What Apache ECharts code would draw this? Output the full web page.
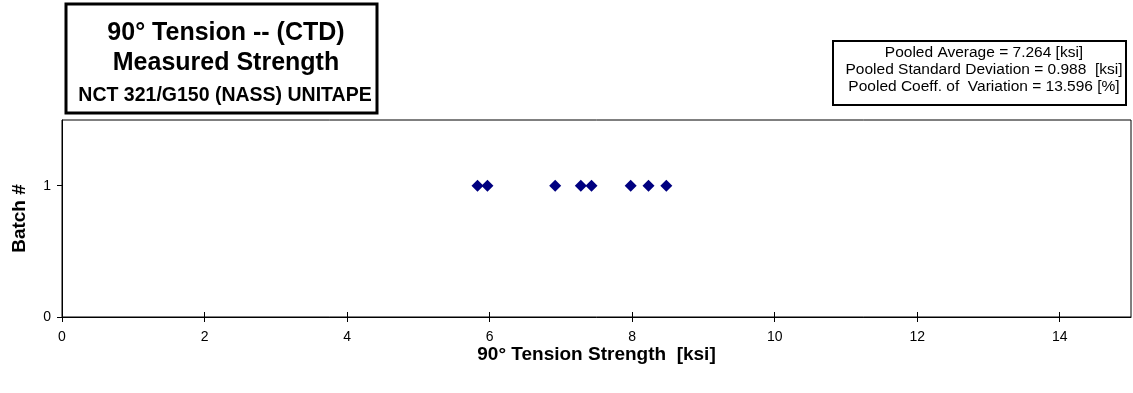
<!DOCTYPE html>
<html><head><meta charset="utf-8">
<script src="https://cdn.jsdelivr.net/npm/echarts@6/dist/echarts.min.js"></script>
<style>html,body{margin:0;padding:0;background:#fff}#c{width:1133px;height:393px}</style>
</head><body><div id="c"></div>
<script>
const strengthValues = [5.83, 5.97, 6.92, 7.28, 7.43, 7.98, 8.23, 8.48];
const batchNumbers = [1, 1, 1, 1, 1, 1, 1, 1];
const xTickValues = [0, 2, 4, 6, 8, 10, 12, 14];
const yTickValues = [0, 1];
const titleLines = ['90° Tension -- (CTD)', 'Measured Strength', 'NCT 321/G150 (NASS) UNITAPE'];
const statsLines = ['Pooled Average = 7.264 [ksi]', 'Pooled Standard Deviation = 0.988  [ksi]', 'Pooled Coeff. of  Variation = 13.596 [%]'];
const xAxisTitle = '90° Tension Strength  [ksi]';
const yAxisTitle = 'Batch #';

const F = '"Liberation Sans", Arial, sans-serif';
const chart = echarts.init(document.getElementById('c'), null, {renderer: 'canvas'});
const points = strengthValues.map((v, i) => [v, batchNumbers[i]]);

chart.setOption({
  animation: false,
  backgroundColor: '#fff',
  grid: {left: 62, right: 2, top: 120, bottom: 76, show: true, borderColor: '#000', borderWidth: 1, outerBoundsMode: 'none', containLabel: false},
  xAxis: [{
    type: 'value', min: 0, max: 15, interval: 2,
    name: xAxisTitle, nameLocation: 'middle', nameGap: 28, nameMoveOverlap: false,
    nameTextStyle: {fontFamily: F, fontWeight: 'bold', fontSize: 19, color: '#000'},
    axisLine: {show: true, onZero: false, lineStyle: {color: '#000', width: 1}},
    axisTick: {show: true, length: 5, customValues: xTickValues, lineStyle: {color: '#000'}},
    axisLabel: {customValues: xTickValues, fontFamily: F, fontSize: 14, color: '#000', margin: 13},
    splitLine: {show: false}
  }, {
    type: 'value', min: 0, max: 15, position: 'bottom',
    axisLine: {show: false},
    axisTick: {show: true, inside: true, length: 5, customValues: xTickValues, lineStyle: {color: '#000'}},
    axisLabel: {show: false},
    splitLine: {show: false}
  }],
  yAxis: {
    type: 'value', min: 0, max: 1.5, interval: 1,
    name: yAxisTitle, nameLocation: 'middle', nameGap: 33, nameMoveOverlap: false,
    nameTextStyle: {fontFamily: F, fontWeight: 'bold', fontSize: 19, color: '#000'},
    axisLine: {show: true, onZero: false, lineStyle: {color: '#000', width: 1}},
    axisTick: {show: true, length: 5, customValues: yTickValues, lineStyle: {color: '#000'}},
    axisLabel: {customValues: yTickValues, fontFamily: F, fontSize: 14, color: '#000', margin: 11},
    splitLine: {show: false}
  },
  series: [{
    type: 'scatter', xAxisIndex: 0, yAxisIndex: 0,
    symbol: 'diamond', symbolSize: 12,
    itemStyle: {color: '#000080', opacity: 1},
    data: points
  }],
  graphic: [
    {type: 'rect', shape: {x: 66, y: 4, width: 311, height: 109}, style: {fill: '#fff', stroke: '#000', lineWidth: 3}},
    {type: 'text', x: 226, y: 33, style: {text: titleLines[0], font: 'bold 25px ' + F, fill: '#000', align: 'center', verticalAlign: 'middle'}},
    {type: 'text', x: 226, y: 63, style: {text: titleLines[1], font: 'bold 25px ' + F, fill: '#000', align: 'center', verticalAlign: 'middle'}},
    {type: 'text', x: 225, y: 96, style: {text: titleLines[2], font: 'bold 19.5px ' + F, fill: '#000', align: 'center', verticalAlign: 'middle'}},
    {type: 'rect', shape: {x: 833, y: 41, width: 293, height: 64}, style: {fill: '#fff', stroke: '#000', lineWidth: 2}},
    {type: 'text', x: 984, y: 53, style: {text: statsLines[0], font: '15.5px ' + F, fill: '#000', align: 'center', verticalAlign: 'middle'}},
    {type: 'text', x: 984, y: 70, style: {text: statsLines[1], font: '15.5px ' + F, fill: '#000', align: 'center', verticalAlign: 'middle'}},
    {type: 'text', x: 984, y: 87, style: {text: statsLines[2], font: '15.5px ' + F, fill: '#000', align: 'center', verticalAlign: 'middle'}}
  ]
});
</script></body></html>
